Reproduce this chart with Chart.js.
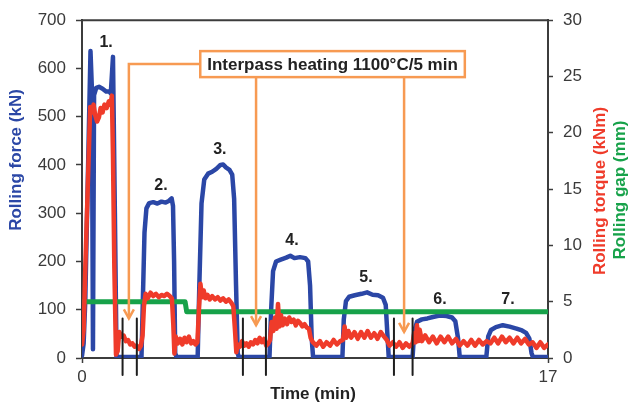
<!DOCTYPE html>
<html>
<head>
<meta charset="utf-8">
<script src="https://cdn.jsdelivr.net/npm/chart.js@4.4.1/dist/chart.umd.min.js"></script>
<style>
  html, body { margin: 0; padding: 0; background: #fff; }
</style>
</head>
<body>
<canvas id="chart" width="635" height="405"></canvas>
<script>
var FONT = "'Liberation Sans', Arial, sans-serif";
var AXIS = '#3c3c3c';
var BLUE = '#2b47a6';
var RED = '#ef3b2a';
var GREEN = '#17a24a';
var ORANGE = '#f79a52';

// time axis (min)
var xTicks = [0, 17];

// rolling force (kN), left axis
var forceTime = [0.00, 0.06, 0.12, 0.31, 0.36, 0.40, 0.44, 0.52, 0.62, 0.75, 0.88, 1.00, 1.05, 1.13, 1.20, 1.26,
  2.17, 2.22, 2.28, 2.35, 2.45, 2.60, 2.75, 2.90, 3.05, 3.18, 3.27, 3.32, 3.36, 3.40, 3.45,
  4.22, 4.28, 4.36, 4.46, 4.60, 4.75, 4.90, 5.05, 5.15, 5.25, 5.38, 5.48, 5.55, 5.62, 5.68, 5.72,
  6.84, 6.90, 6.97, 7.08, 7.25, 7.45, 7.60, 7.75, 7.95, 8.15, 8.25, 8.32, 8.38, 8.43,
  9.50, 9.55, 9.63, 9.75, 9.95, 10.20, 10.40, 10.60, 10.80, 10.98, 11.08, 11.14, 11.19,
  12.06, 12.12, 12.22, 12.40, 12.60, 12.80, 13.05, 13.30, 13.50, 13.62, 13.72, 13.78,
  14.75, 14.82, 14.92, 15.10, 15.35, 15.60, 15.85, 16.05, 16.20, 16.32, 16.40, 16.45, 17.00];
var forceKN = [5, 30, 120, 636, 560, 18, 545, 560, 562, 558, 552, 552, 548, 624, 300, 2,
  2, 120, 260, 310, 321, 323, 320, 324, 322, 326, 331, 315, 200, 10, 2,
  2, 150, 320, 370, 382, 386, 392, 400, 401, 395, 390, 380, 330, 150, 10, 2,
  2, 100, 180, 200, 204, 208, 212, 207, 209, 207, 200, 150, 40, 2,
  2, 80, 118, 127, 130, 133, 136, 131, 130, 125, 110, 50, 2,
  2, 55, 75, 80, 82, 85, 88, 87, 84, 76, 40, 2,
  2, 45, 58, 64, 68, 65, 61, 57, 52, 40, 10, 2, 2];

// rolling torque (kNm), right axis
var torqueTime = [0.00, 0.06, 0.12, 0.30, 0.36, 0.42, 0.48, 0.55, 0.62, 0.68, 0.75, 0.82, 0.90, 0.98, 1.04, 1.09, 1.13, 1.18, 1.24,
  1.30, 1.36, 1.44, 1.52, 1.60, 1.68, 1.76, 1.84, 1.92, 2.00, 2.08, 2.15,
  2.21, 2.26, 2.32, 2.40, 2.50, 2.60, 2.70, 2.80, 2.90, 3.00, 3.10, 3.20, 3.28, 3.33, 3.37,
  3.42, 3.50, 3.58, 3.66, 3.74, 3.82, 3.90, 3.98, 4.06, 4.14,
  4.21, 4.27, 4.32, 4.38, 4.44, 4.50, 4.58, 4.66, 4.75, 4.85, 4.95, 5.05, 5.15, 5.25, 5.35, 5.45, 5.52, 5.58, 5.63,
  5.68, 5.76, 5.84, 5.92, 6.00, 6.08, 6.16, 6.24, 6.32, 6.40, 6.48, 6.56, 6.64, 6.72, 6.80,
  6.86, 6.92, 6.98, 7.04, 7.10, 7.15, 7.20, 7.26, 7.32, 7.40, 7.48, 7.56, 7.64, 7.72, 7.80, 7.88, 7.96, 8.04, 8.12, 8.20, 8.28, 8.34,
  8.42, 8.55, 8.68, 8.80, 8.92, 9.05, 9.18, 9.30, 9.42,
  9.52, 9.58, 9.64, 9.72, 9.82, 9.94, 10.06, 10.18, 10.30, 10.42, 10.54, 10.66, 10.78, 10.90, 11.02, 11.12,
  11.22, 11.34, 11.46, 11.58, 11.70, 11.82, 11.94, 12.06,
  12.12, 12.17, 12.22, 12.27, 12.32, 12.40, 12.52, 12.66, 12.80, 12.94, 13.08, 13.22, 13.36, 13.50, 13.64, 13.78,
  13.92, 14.06, 14.20, 14.34, 14.48, 14.62, 14.76,
  14.90, 15.04, 15.18, 15.32, 15.46, 15.60, 15.74, 15.88, 16.02, 16.16, 16.30, 16.44,
  16.58, 16.72, 16.86, 17.00];
var torqueKNm = [1.2, 2.5, 8.0, 22.3, 21.8, 22.5, 21.6, 21.0, 21.4, 22.2, 21.8, 22.5, 22.2, 22.8, 22.5, 23.3, 18.0, 8.0, 0.3,
  0.6, 2.3, 1.9, 2.0, 1.5, 1.6, 1.2, 1.3, 1.0, 1.1, 0.8, 1.1,
  2.0, 4.6, 5.7, 5.3, 5.8, 5.5, 5.7, 5.4, 5.6, 5.5, 5.7, 5.5, 5.3, 3.0, 0.4,
  1.9, 1.3, 1.7, 1.2, 1.8, 1.4, 1.9, 1.3, 1.5, 1.2,
  1.4, 4.5, 6.6, 5.4, 6.0, 5.3, 5.6, 5.2, 5.5, 5.2, 5.4, 5.1, 5.3, 5.0, 5.2, 4.9, 4.6, 2.5, 0.5,
  1.2, 1.0, 1.5, 1.1, 1.3, 1.0, 1.4, 1.2, 1.6, 1.3, 1.8, 1.4, 1.7, 1.1, 1.3,
  1.6, 3.2, 2.4, 3.6, 2.6, 4.8, 2.8, 3.8, 2.9, 3.5, 3.0, 3.6, 3.2, 3.4, 2.9, 3.3, 3.1, 2.8, 3.0, 2.7, 2.6, 1.8,
  1.4, 1.1, 1.5, 1.0, 1.4, 1.1, 1.6, 1.2, 1.5,
  1.6, 2.8, 1.8, 2.4, 1.8, 2.3, 1.7, 2.3, 1.8, 2.4, 1.8, 2.2, 1.7, 2.3, 1.9, 1.6,
  1.1, 1.4, 1.0, 1.4, 0.9, 1.3, 1.0, 1.3,
  2.2, 1.4, 2.9, 1.5, 2.5, 1.5, 2.0, 1.4, 1.9, 1.3, 1.9, 1.4, 1.9, 1.3, 1.7, 1.1,
  1.5, 1.1, 1.6, 1.1, 1.6, 1.2, 1.5,
  1.3, 1.8, 1.3, 1.9, 1.4, 1.8, 1.3, 1.8, 1.3, 1.7, 1.2, 1.4,
  0.9, 1.4, 0.9, 1.2];

// rolling gap (mm), right axis
var gapTime = [0, 3.76, 3.82, 17];
var gapMM = [5.0, 5.0, 4.1, 4.1];

// pass boundaries and labels
var breakTimes = [1.48, 2.00, 5.87, 6.71, 11.38, 12.06];
var breakTop = 82, breakBottom = -35;
var passNames = ['1.', '2.', '3.', '4.', '5.', '6.', '7.'];
var passTime = [0.88, 2.88, 5.03, 7.66, 10.36, 13.06, 15.54];
var passForce = [653, 358, 432, 243, 167, 121, 121];

// interpass heating note
var heatingText = 'Interpass heating 1100°C/5 min';
var boxTime = 9.14, boxForce = 609;
var arrowTime = [1.71, 6.35, 11.75];
var arrowForce = [82, 68, 54];

function pairs(xs, ys) {
  return xs.map(function (x, i) { return {x: x, y: ys[i]}; });
}

var breakPoints = [];
breakTimes.forEach(function (t) {
  breakPoints.push({x: t, y: breakTop}, {x: t, y: breakBottom}, {x: t, y: null});
});

var decorations = {
  id: 'decorations',
  afterDatasetsDraw: function (chart) {
    var ctx = chart.ctx, xs = chart.scales.x, ys = chart.scales.y, area = chart.chartArea;
    ctx.save();

    // top frame
    ctx.strokeStyle = AXIS;
    ctx.lineWidth = 2;
    ctx.beginPath();
    ctx.moveTo(area.left, area.top);
    ctx.lineTo(area.right, area.top);
    ctx.stroke();

    // pass numbers
    ctx.font = 'bold 16px ' + FONT;
    ctx.fillStyle = '#222';
    ctx.textAlign = 'center';
    ctx.textBaseline = 'middle';
    passNames.forEach(function (s, i) {
      ctx.fillText(s, xs.getPixelForValue(passTime[i]), ys.getPixelForValue(passForce[i]));
    });

    // heating note with arrows
    ctx.font = 'bold 17px ' + FONT;
    var tw = ctx.measureText(heatingText).width;
    var bx = xs.getPixelForValue(boxTime), by = ys.getPixelForValue(boxForce);
    var bw = tw + 14, bh = 26;
    var left = bx - bw / 2, top = by - bh / 2;
    ctx.strokeStyle = ORANGE;
    ctx.lineWidth = 2.5;
    arrowTime.forEach(function (t, i) {
      var ax = xs.getPixelForValue(t), ay = ys.getPixelForValue(arrowForce[i]);
      ctx.beginPath();
      if (i === 0) {
        ctx.moveTo(left, by);
        ctx.lineTo(ax, by);
      } else {
        ctx.moveTo(ax, top + bh);
      }
      ctx.lineTo(ax, ay);
      ctx.stroke();
      ctx.beginPath();
      ctx.moveTo(ax - 5, ay - 9);
      ctx.lineTo(ax, ay);
      ctx.lineTo(ax + 5, ay - 9);
      ctx.stroke();
    });
    ctx.fillStyle = '#fff';
    ctx.fillRect(left, top, bw, bh);
    ctx.strokeRect(left, top, bw, bh);
    ctx.fillStyle = '#222';
    ctx.fillText(heatingText, bx, by + 1);

    // axis titles
    ctx.font = 'bold 17px ' + FONT;
    ctx.fillStyle = '#222';
    ctx.fillText('Time (min)', (area.left + area.right) / 2 - 2, 394);
    function vtext(s, x, y, c) {
      ctx.save();
      ctx.translate(x, y);
      ctx.rotate(-Math.PI / 2);
      ctx.fillStyle = c;
      ctx.fillText(s, 0, 0);
      ctx.restore();
    }
    vtext('Rolling force (kN)', 16, 160, BLUE);
    vtext('Rolling torque (kNm)', 600, 191, RED);
    vtext('Rolling gap (mm)', 620, 190, GREEN);

    ctx.restore();
  }
};

var tickFont = {family: FONT, size: 17};

new Chart(document.getElementById('chart'), {
  type: 'line',
  data: {
    datasets: [
      {
        data: breakPoints,
        yAxisID: 'y',
        borderColor: '#1e1e1e',
        borderWidth: 2,
        clip: false,
        spanGaps: false
      },
      {
        data: pairs(torqueTime, torqueKNm),
        yAxisID: 'y2',
        borderColor: RED,
        borderWidth: 4.5
      },
      {
        data: pairs(gapTime, gapMM),
        yAxisID: 'y2',
        borderColor: GREEN,
        borderWidth: 5
      },
      {
        data: pairs(forceTime, forceKN),
        yAxisID: 'y',
        borderColor: BLUE,
        borderWidth: 4.5
      }
    ]
  },
  options: {
    responsive: false,
    animation: false,
    parsing: false,
    layout: {padding: {top: 18, left: 0, right: 0, bottom: 0}},
    elements: {
      point: {radius: 0},
      line: {tension: 0, borderJoinStyle: 'round', borderCapStyle: 'round', fill: false}
    },
    plugins: {legend: {display: false}, tooltip: {enabled: false}},
    scales: {
      x: {
        type: 'linear',
        min: 0,
        max: 17,
        afterBuildTicks: function (s) { s.ticks = xTicks.map(function (v) { return {value: v}; }); },
        afterFit: function (s) { s.height = 47; },
        grid: {drawOnChartArea: false, tickLength: 5, tickColor: AXIS, tickWidth: 1.5},
        border: {color: AXIS, width: 2},
        ticks: {font: tickFont, color: '#3a3a3a', padding: 4, maxRotation: 0}
      },
      y: {
        position: 'left',
        min: 0,
        max: 700,
        afterFit: function (s) { s.width = 82; },
        grid: {drawOnChartArea: false, tickLength: 6, tickColor: AXIS, tickWidth: 1.5},
        border: {color: AXIS, width: 2},
        ticks: {stepSize: 100, font: tickFont, color: '#3a3a3a', padding: 10}
      },
      y2: {
        position: 'right',
        min: 0,
        max: 30,
        afterFit: function (s) { s.width = 87; },
        grid: {drawOnChartArea: false, tickLength: 5, tickColor: AXIS, tickWidth: 1.5},
        border: {color: AXIS, width: 2},
        ticks: {stepSize: 5, font: tickFont, color: '#3a3a3a', padding: 10}
      }
    }
  },
  plugins: [decorations]
});
</script>
</body>
</html>
